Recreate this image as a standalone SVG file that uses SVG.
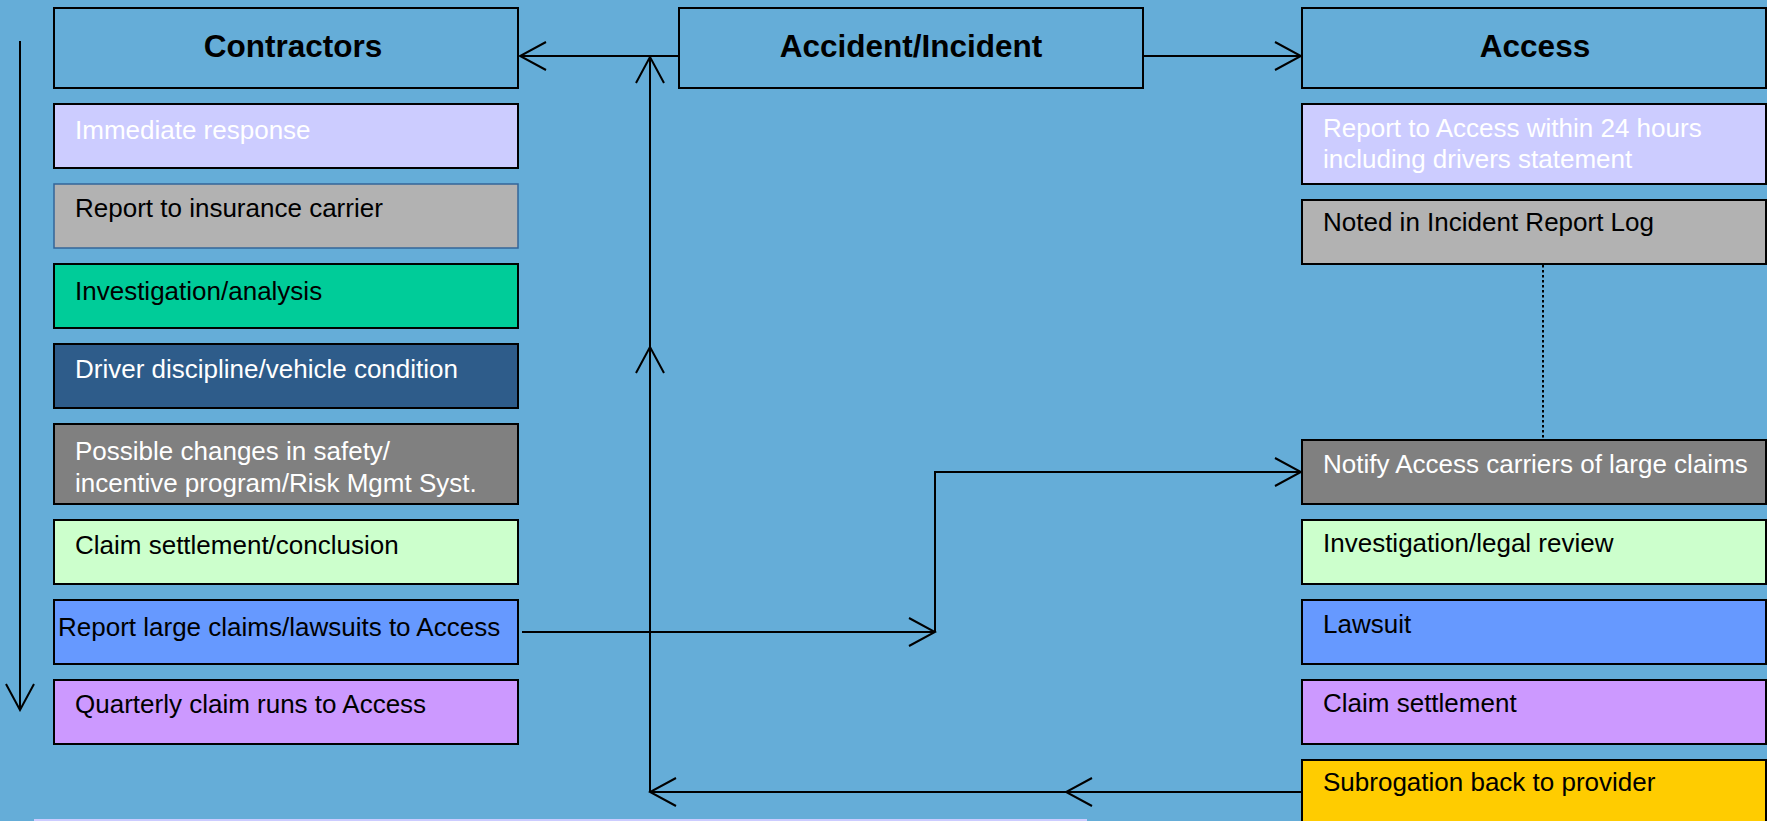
<svg xmlns="http://www.w3.org/2000/svg" width="1767" height="821" viewBox="0 0 1767 821">
<style>
.bx{stroke:#000;stroke-width:2}
.t{font-family:"Liberation Sans",Arial,sans-serif;font-size:26px;fill:#000}
.w{fill:#fff}
.h{font-family:"Liberation Sans",Arial,sans-serif;font-size:31.5px;font-weight:bold;fill:#000;text-anchor:middle}
.c{fill:none;stroke:#000;stroke-width:2}
</style>
<defs>
<marker id="ah" viewBox="-28 -16 30 32" refX="0" refY="0" markerWidth="30" markerHeight="32" markerUnits="userSpaceOnUse" orient="auto">
<path d="M-26,-14 L0,0 L-26,14" fill="none" stroke="#000" stroke-width="2"/>
</marker>
</defs>
<rect x="0" y="0" width="1767" height="821" fill="#65add8"/>
<rect x="34" y="819" width="1053" height="4" fill="#ccccff"/>

<g id="contractors"><rect class="bx" x="54" y="8" width="464" height="80" fill="#65add8"/><text class="h" x="293" y="57">Contractors</text></g>
<g id="immediate"><rect class="bx" x="54" y="104" width="464" height="64" fill="#ccccff"/><text class="t w" x="75" y="139">Immediate response</text></g>
<g id="report-insurance"><rect x="54" y="184" width="464" height="64" fill="#b2b2b2" stroke="#336699" stroke-width="1.5"/><text class="t" x="75" y="217">Report to insurance carrier</text></g>
<g id="investigation-analysis"><rect class="bx" x="54" y="264" width="464" height="64" fill="#00cc99"/><text class="t" x="75" y="300">Investigation/analysis</text></g>
<g id="driver"><rect class="bx" x="54" y="344" width="464" height="64" fill="#2e5c8a"/><text class="t w" x="75" y="378">Driver discipline/vehicle condition</text></g>
<g id="possible"><rect class="bx" x="54" y="424" width="464" height="80" fill="#808080"/><text class="t w" x="75" y="460">Possible changes in safety/</text><text class="t w" x="75" y="492">incentive program/Risk Mgmt Syst.</text></g>
<g id="claim-conclusion"><rect class="bx" x="54" y="520" width="464" height="64" fill="#ccffcc"/><text class="t" x="75" y="554">Claim settlement/conclusion</text></g>
<g id="report-large"><rect class="bx" x="54" y="600" width="464" height="64" fill="#6699ff"/><text class="t" x="58" y="636">Report large claims/lawsuits to Access</text></g>
<g id="quarterly"><rect class="bx" x="54" y="680" width="464" height="64" fill="#cc99ff"/><text class="t" x="75" y="713">Quarterly claim runs to Access</text></g>

<g id="accident"><rect class="bx" x="679" y="8" width="464" height="80" fill="#65add8"/><text class="h" x="911" y="57">Accident/Incident</text></g>

<g id="access"><rect class="bx" x="1302" y="8" width="464" height="80" fill="#65add8"/><text class="h" x="1535" y="57">Access</text></g>
<g id="report-access"><rect class="bx" x="1302" y="104" width="464" height="80" fill="#ccccff"/><text class="t w" x="1323" y="137">Report to Access within 24 hours</text><text class="t w" x="1323" y="168">including drivers statement</text></g>
<g id="noted"><rect class="bx" x="1302" y="200" width="464" height="64" fill="#b2b2b2"/><text class="t" x="1323" y="231">Noted in Incident Report Log</text></g>
<g id="notify"><rect class="bx" x="1302" y="440" width="464" height="64" fill="#808080"/><text class="t w" x="1323" y="473">Notify Access carriers of large claims</text></g>
<g id="investigation-legal"><rect class="bx" x="1302" y="520" width="464" height="64" fill="#ccffcc"/><text class="t" x="1323" y="552">Investigation/legal review</text></g>
<g id="lawsuit"><rect class="bx" x="1302" y="600" width="464" height="64" fill="#6699ff"/><text class="t" x="1323" y="633">Lawsuit</text></g>
<g id="claim-settlement"><rect class="bx" x="1302" y="680" width="464" height="64" fill="#cc99ff"/><text class="t" x="1323" y="712">Claim settlement</text></g>
<g id="subrogation"><rect class="bx" x="1302" y="760" width="464" height="80" fill="#ffcc00"/><text class="t" x="1323" y="791">Subrogation back to provider</text></g>

<g id="connectors">
<path class="c" d="M679,56 H520" marker-end="url(#ah)"/>
<path class="c" d="M1143,56 H1301" marker-end="url(#ah)"/>
<path class="c" d="M650,792 V347" marker-end="url(#ah)"/>
<path class="c" d="M650,347 V57" marker-end="url(#ah)"/>
<path class="c" d="M1302,792 H1066" marker-end="url(#ah)"/>
<path class="c" d="M1066,792 H650" marker-end="url(#ah)"/>
<path class="c" d="M522,632 H935" marker-end="url(#ah)"/>
<path class="c" d="M935,632 V472 H1301" marker-end="url(#ah)"/>
<path class="c" d="M20,41 V710" marker-end="url(#ah)"/>
<path class="c" d="M1543,265 V440" stroke-width="2.5" stroke-dasharray="2.5 2.5"/>
</g>
</svg>
